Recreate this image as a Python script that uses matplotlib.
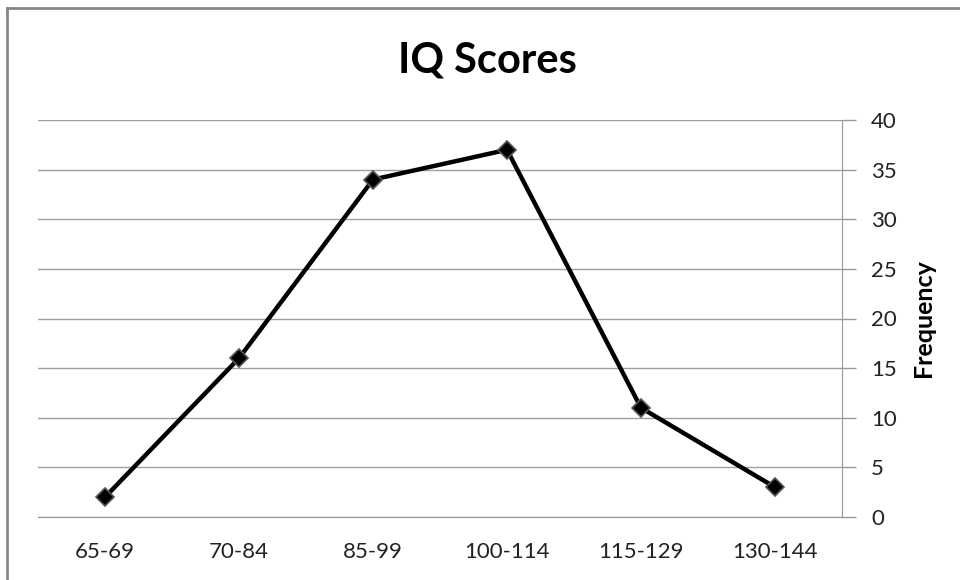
import matplotlib
matplotlib.use("Agg")
import matplotlib.pyplot as plt
from matplotlib.lines import Line2D

categories = ["65-69", "70-84", "85-99", "100-114", "115-129", "130-144"]
frequency = [2, 16, 34, 37, 11, 3]
yticks = [0, 5, 10, 15, 20, 25, 30, 35, 40]

plt.rcParams['font.family'] = ['Lato', 'DejaVu Sans']

fig = plt.figure(figsize=(9.6, 5.8), dpi=100)
ax = fig.add_axes([38/960, 1-517/580, (842-38)/960, (517-120)/580])

x = list(range(len(categories)))
ax.plot(x, frequency, color='black', linewidth=3.2, marker='D', markersize=9.5,
        markerfacecolor='black', markeredgecolor='#555555', markeredgewidth=1.2, zorder=3,
        clip_on=False)

ax.set_xlim(-0.5, len(categories) - 0.5)
ax.set_ylim(0, 40)
ax.set_xticks(x)
ax.set_xticklabels(categories, fontsize=16, color='#222222')
ax.set_yticks(yticks)
ax.set_yticklabels([str(v) for v in yticks], fontsize=16, color='#222222')

ax.tick_params(axis='y', which='major', direction='out', length=10, width=1,
               color='#999999', pad=11, left=False, labelleft=False,
               right=True, labelright=True)
ax.tick_params(axis='x', length=0, pad=18)
ax.yaxis.set_label_position('right')

ax.grid(axis='y', color='#a0a0a0', linewidth=1)
ax.set_axisbelow(True)
for s in ['top', 'left']:
    ax.spines[s].set_visible(False)
ax.spines['right'].set_color('#999999')
ax.spines['bottom'].set_color('#999999')

ax.set_ylabel('Frequency', fontsize=18, fontweight='bold', labelpad=11)

fig.text(487/960, 1-60/580, 'IQ Scores', ha='center', va='center',
         fontsize=30, fontweight='bold')

fig.add_artist(Line2D([7/960, 1], [1-8/580, 1-8/580], transform=fig.transFigure,
                      color='#888888', linewidth=2))
fig.add_artist(Line2D([7/960, 7/960], [0, 1-8/580], transform=fig.transFigure,
                      color='#888888', linewidth=2))

fig.savefig('out.png', dpi=100)
